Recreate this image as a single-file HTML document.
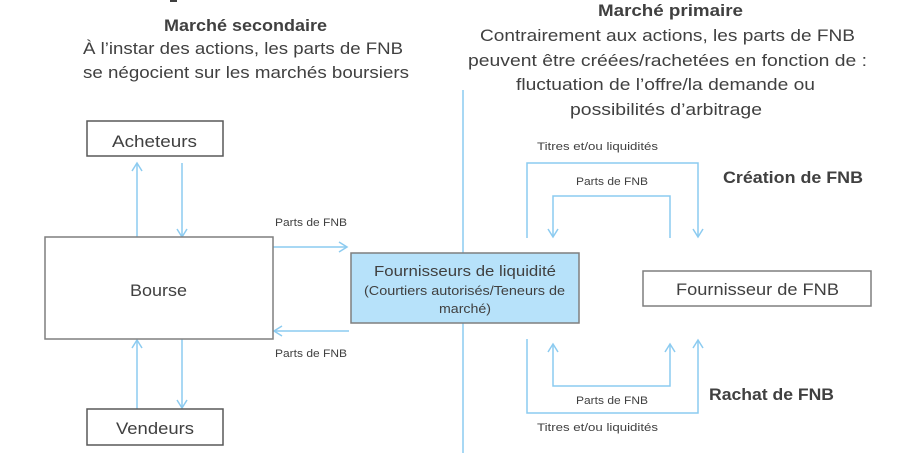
<!DOCTYPE html>
<html>
<head>
<meta charset="utf-8">
<style>
  html, body { margin:0; padding:0; background:#fff; }
  svg { display:block; }
  text { font-family:"Liberation Sans", sans-serif; fill:#404040; }
</style>
</head>
<body>
<svg width="908" height="453" viewBox="0 0 908 453" xmlns="http://www.w3.org/2000/svg">
  <!-- partial glyph at top -->
  <rect x="170" y="0" width="7" height="2" fill="#404040"/>

  <!-- Left headings -->
  <text x="164" y="31" font-size="17" font-weight="bold" textLength="163" lengthAdjust="spacingAndGlyphs">Marché secondaire</text>
  <text x="83" y="54" font-size="16.5" textLength="320" lengthAdjust="spacingAndGlyphs">À l’instar des actions, les parts de FNB</text>
  <text x="83" y="78" font-size="16.5" textLength="326" lengthAdjust="spacingAndGlyphs">se négocient sur les marchés boursiers</text>

  <!-- Right headings -->
  <text x="598" y="16" font-size="17" font-weight="bold" textLength="145" lengthAdjust="spacingAndGlyphs">Marché primaire</text>
  <text x="480" y="41" font-size="16.5" textLength="375" lengthAdjust="spacingAndGlyphs">Contrairement aux actions, les parts de FNB</text>
  <text x="468" y="66" font-size="16.5" textLength="399" lengthAdjust="spacingAndGlyphs">peuvent être créées/rachetées en fonction de :</text>
  <text x="516" y="90" font-size="16.5" textLength="299" lengthAdjust="spacingAndGlyphs">fluctuation de l’offre/la demande ou</text>
  <text x="570" y="115" font-size="16.5" textLength="192" lengthAdjust="spacingAndGlyphs">possibilités d’arbitrage</text>

  <!-- Divider -->
  <line x1="463" y1="90" x2="463" y2="453" stroke="#8ccbf0" stroke-width="1.5"/>

  <g fill="none" stroke="#8ccbf0" stroke-width="1.5">
    <!-- Acheteurs <-> Bourse -->
    <line x1="137" y1="237" x2="137" y2="164"/>
    <polyline points="132,171 137,163 142,171"/>
    <line x1="182" y1="163" x2="182" y2="236"/>
    <polyline points="177,229 182,237 187,229"/>
    <!-- Bourse <-> Vendeurs -->
    <line x1="137" y1="409" x2="137" y2="341"/>
    <polyline points="132,348 137,340 142,348"/>
    <line x1="182" y1="339" x2="182" y2="407"/>
    <polyline points="177,400 182,408 187,400"/>
    <!-- Bourse <-> Liquidity -->
    <line x1="273" y1="247" x2="346" y2="247"/>
    <polyline points="339,242 347,247 339,252"/>
    <line x1="349" y1="331" x2="275" y2="331"/>
    <polyline points="282,326 274,331 282,336"/>

    <!-- Creation loop -->
    <polyline points="527,238 527,163 698,163 698,236"/>
    <polyline points="693,229 698,237 703,229"/>
    <polyline points="670,238 670,196 553,196 553,236"/>
    <polyline points="548,229 553,237 558,229"/>

    <!-- Rachat loop -->
    <polyline points="527,339 527,413 698,413 698,341"/>
    <polyline points="693,348 698,340 703,348"/>
    <polyline points="553,345 553,386 670,386 670,345"/>
    <polyline points="548,352 553,344 558,352"/>
    <polyline points="665,352 670,344 675,352"/>
  </g>

  <!-- Boxes -->
  <rect x="87" y="121" width="136" height="35" fill="#fff" stroke="#595959" stroke-width="1.5"/>
  <text x="112" y="147" font-size="17" textLength="85" lengthAdjust="spacingAndGlyphs">Acheteurs</text>

  <rect x="45" y="237" width="228" height="102" fill="#fff" stroke="#7f7f7f" stroke-width="1.5"/>
  <text x="130" y="296" font-size="17" textLength="57" lengthAdjust="spacingAndGlyphs">Bourse</text>

  <rect x="87" y="409" width="136" height="36" fill="#fff" stroke="#595959" stroke-width="1.5"/>
  <text x="116" y="434" font-size="17" textLength="78" lengthAdjust="spacingAndGlyphs">Vendeurs</text>

  <rect x="351" y="253" width="228" height="70" fill="#b7e2fa" stroke="#7f7f7f" stroke-width="1.5"/>
  <text x="374" y="276" font-size="14.5" textLength="182" lengthAdjust="spacingAndGlyphs">Fournisseurs de liquidité</text>
  <text x="364" y="295" font-size="12.5" textLength="201" lengthAdjust="spacingAndGlyphs">(Courtiers autorisés/Teneurs de</text>
  <text x="439" y="313" font-size="12.5" textLength="52" lengthAdjust="spacingAndGlyphs">marché)</text>

  <rect x="643" y="271" width="228" height="35" fill="#fff" stroke="#7f7f7f" stroke-width="1.5"/>
  <text x="676" y="295" font-size="17" textLength="163" lengthAdjust="spacingAndGlyphs">Fournisseur de FNB</text>

  <!-- small labels -->
  <text x="275" y="226" font-size="11" textLength="72" lengthAdjust="spacingAndGlyphs">Parts de FNB</text>
  <text x="275" y="357" font-size="11" textLength="72" lengthAdjust="spacingAndGlyphs">Parts de FNB</text>
  <text x="537" y="150" font-size="11" textLength="121" lengthAdjust="spacingAndGlyphs">Titres et/ou liquidités</text>
  <text x="576" y="185" font-size="11" textLength="72" lengthAdjust="spacingAndGlyphs">Parts de FNB</text>
  <text x="576" y="404" font-size="11" textLength="72" lengthAdjust="spacingAndGlyphs">Parts de FNB</text>
  <text x="537" y="431" font-size="11" textLength="121" lengthAdjust="spacingAndGlyphs">Titres et/ou liquidités</text>

  <text x="723" y="183" font-size="17" font-weight="bold" textLength="140" lengthAdjust="spacingAndGlyphs">Création de FNB</text>
  <text x="709" y="400" font-size="17" font-weight="bold" textLength="125" lengthAdjust="spacingAndGlyphs">Rachat de FNB</text>
</svg>
</body>
</html>
